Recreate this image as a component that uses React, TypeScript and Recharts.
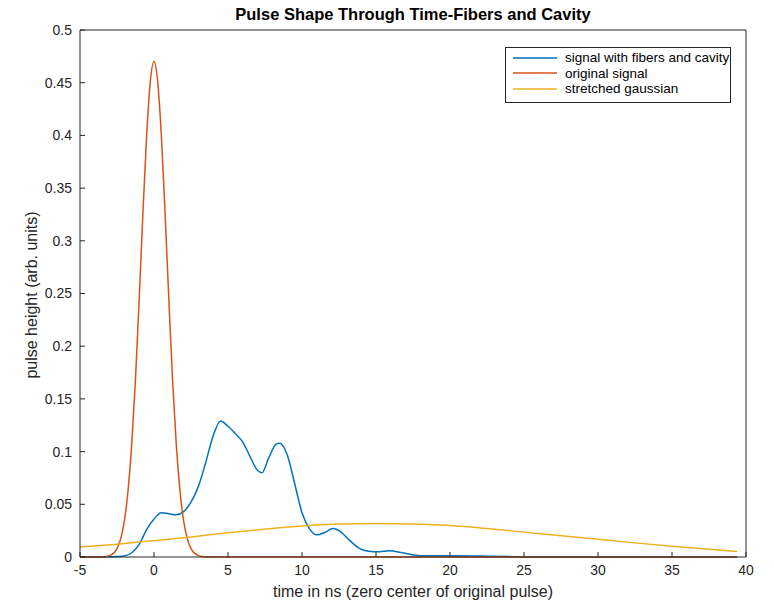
import React from 'react';
import { LineChart, Line, XAxis, YAxis } from 'recharts';

const xTicks = [-5, 0, 5, 10, 15, 20, 25, 30, 35, 40];
const yTicks = [0, 0.05, 0.1, 0.15, 0.2, 0.25, 0.3, 0.35, 0.4, 0.45, 0.5];

// signal with fibers and cavity
const fiberX = [-5, -3.5, -3, -2.5, -2, -1.5, -1, -0.5, 0, 0.5, 1, 1.5, 2, 2.5, 3, 3.5, 4, 4.5, 5, 5.5, 6, 6.5, 7, 7.3, 7.75, 8.25, 8.5, 9, 9.5, 10, 10.5, 11, 11.5, 12.1, 12.6, 13.2, 13.9, 14.5, 15.1, 15.9, 16.8, 18, 20, 21.5, 22.5, 24, 25, 39.4];
const fiberY = [0, 0, 0.0002, 0.0005, 0.001, 0.004, 0.012, 0.026, 0.036, 0.042, 0.041, 0.04, 0.043, 0.052, 0.067, 0.09, 0.115, 0.129, 0.124, 0.117, 0.109, 0.095, 0.082, 0.08, 0.094, 0.107, 0.108, 0.097, 0.07, 0.042, 0.027, 0.021, 0.023, 0.027, 0.024, 0.016, 0.008, 0.0055, 0.005, 0.006, 0.004, 0.0013, 0.0012, 0.001, 0.0008, 0.0004, 0, 0];

// original signal
const origX = [-5, -3.75, -3.5, -3.25, -3, -2.75, -2.5, -2.25, -2, -1.75, -1.5, -1.25, -1, -0.75, -0.5, -0.25, 0, 0.25, 0.5, 0.75, 1, 1.25, 1.5, 1.75, 2, 2.25, 2.5, 2.75, 3, 3.25, 3.5, 3.75, 39.4];
const origY = [0, 0, 0.0002, 0.0005, 0.0013, 0.0034, 0.0079, 0.0172, 0.0345, 0.0636, 0.108, 0.169, 0.245, 0.326, 0.399, 0.451, 0.47, 0.451, 0.399, 0.326, 0.245, 0.169, 0.108, 0.0636, 0.0345, 0.0172, 0.0079, 0.0034, 0.0013, 0.0005, 0.0002, 0, 0];

// stretched gaussian
const stretchX = [-5, -2.5, 0, 2.5, 5, 7.5, 10, 12.5, 15, 17.5, 20, 22.5, 25, 27.5, 30, 32.5, 35, 37.5, 39.4];
const stretchY = [0.0095, 0.0122, 0.0155, 0.019, 0.023, 0.0265, 0.0295, 0.0312, 0.0318, 0.0313, 0.0298, 0.027, 0.0236, 0.0202, 0.0168, 0.0134, 0.0102, 0.0073, 0.0052];

const rows = (xs: number[], ys: number[]) => xs.map((x, i) => ({ x, y: ys[i] }));

const series = [
  { name: 'signal with fibers and cavity', color: '#0072BD', data: rows(fiberX, fiberY) },
  { name: 'original signal', color: '#D95319', data: rows(origX, origY) },
  { name: 'stretched gaussian', color: '#EDB120', data: rows(stretchX, stretchY) },
];

const FONT = '"Liberation Sans", Arial, Helvetica, sans-serif';
const INK = '#262626';
const tickStyle = { fontSize: 14, fill: INK, fontFamily: FONT };

export default function App() {
  return (
    <div style={{ position: 'absolute', left: 0, top: 0, width: 774, height: 607, background: '#fff', fontFamily: FONT }}>
      <LineChart width={774} height={607} margin={{ top: 10, right: 18, bottom: 20, left: 30 }}>
        <XAxis
          xAxisId="b"
          type="number"
          dataKey="x"
          domain={[-5, 40]}
          ticks={xTicks}
          allowDataOverflow
          height={30}
          stroke={INK}
          tickSize={-5}
          tickMargin={13}
          tick={tickStyle}
        />
        <XAxis
          xAxisId="t"
          orientation="top"
          type="number"
          dataKey="x"
          domain={[-5, 40]}
          ticks={xTicks}
          height={20}
          stroke={INK}
          tickSize={-5}
          tickFormatter={() => ''}
        />
        <YAxis
          yAxisId="l"
          type="number"
          domain={[0, 0.5]}
          ticks={yTicks}
          width={50}
          stroke={INK}
          tickSize={-5}
          tickMargin={13}
          tick={tickStyle}
        />
        <YAxis
          yAxisId="r"
          orientation="right"
          type="number"
          domain={[0, 0.5]}
          ticks={yTicks}
          width={10}
          stroke={INK}
          tickSize={-5}
          tickFormatter={() => ''}
        />
        {series.map((s) => (
          <Line
            key={s.name}
            xAxisId="b"
            yAxisId="l"
            data={s.data}
            dataKey="y"
            type="monotone"
            stroke={s.color}
            strokeWidth={1.5}
            dot={false}
            activeDot={false}
            isAnimationActive={false}
          />
        ))}
      </LineChart>

      <div style={{ position: 'absolute', left: 80, top: 5, width: 666, textAlign: 'center', fontSize: 16.5, fontWeight: 'bold', color: '#000' }}>
        Pulse Shape Through Time-Fibers and Cavity
      </div>
      <div style={{ position: 'absolute', left: 80, top: 583, width: 666, textAlign: 'center', fontSize: 16, color: INK }}>
        time in ns (zero center of original pulse)
      </div>
      <div
        style={{
          position: 'absolute',
          left: 32,
          top: 295,
          transform: 'translate(-50%, -50%) rotate(-90deg)',
          whiteSpace: 'nowrap',
          fontSize: 16,
          color: INK,
        }}
      >
        pulse height (arb. units)
      </div>

      <div
        style={{
          position: 'absolute',
          left: 505,
          top: 47,
          width: 226,
          height: 56,
          boxSizing: 'border-box',
          border: `1px solid ${INK}`,
          background: '#fff',
          paddingTop: 2,
        }}
      >
        {series.map((s) => (
          <div key={s.name} style={{ display: 'flex', alignItems: 'center', height: 15.5 }}>
            <svg width={52} height={6} style={{ marginLeft: 7, display: 'block' }}>
              <line x1={0} y1={3} x2={44} y2={3} stroke={s.color} strokeWidth={1.5} />
            </svg>
            <span style={{ fontSize: 13.5, color: '#000', whiteSpace: 'nowrap' }}>{s.name}</span>
          </div>
        ))}
      </div>
    </div>
  );
}
